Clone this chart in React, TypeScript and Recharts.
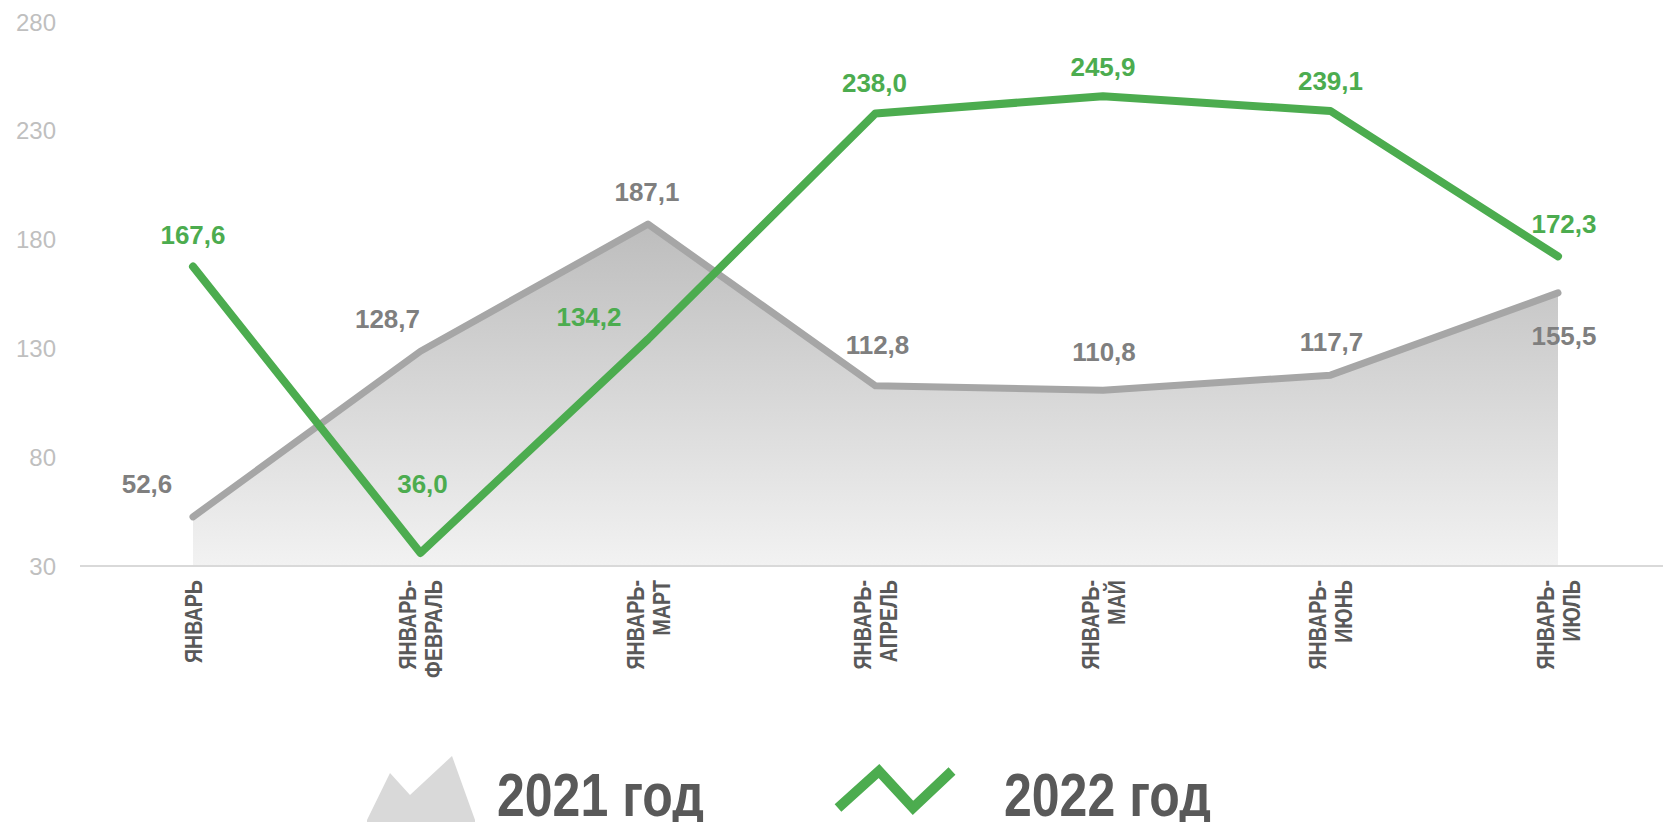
import React from 'react';
import { ComposedChart, Area, Line, XAxis, YAxis, LabelList, Legend } from 'recharts';

const categories = [
  'ЯНВАРЬ',
  'ЯНВАРЬ-ФЕВРАЛЬ',
  'ЯНВАРЬ-МАРТ',
  'ЯНВАРЬ-АПРЕЛЬ',
  'ЯНВАРЬ-МАЙ',
  'ЯНВАРЬ-ИЮНЬ',
  'ЯНВАРЬ-ИЮЛЬ',
];
const values2021 = [52.6, 128.7, 187.1, 112.8, 110.8, 117.7, 155.5];
const values2022 = [167.6, 36.0, 134.2, 238.0, 245.9, 239.1, 172.3];
const yTicks = [30, 80, 130, 180, 230, 280];
const seriesNames = ['2021 год', '2022 год'];

// label placement offsets (label centre relative to the point), px
const offsets2021: [number, number][] = [
  [-46, -33], [-33, -33], [-1, -32], [2, -41], [1, -38], [1, -33], [6, 43],
];
const offsets2022: [number, number][] = [
  [0, -32], [2, -69], [-59, -23], [-1, -31], [0, -30], [0, -30], [6, -33],
];

const GREEN = '#4CAC4F';
const GRAY_LINE = '#A6A6A6';
const GRAY_LABEL = '#7F7F7F';
const FONT = "'Liberation Sans', Arial, sans-serif";

const data = categories.map((c, i) => ({
  name: c,
  y2021: values2021[i],
  y2022: values2022[i],
}));

const fmt = (v: number) => v.toFixed(1).replace('.', ',');

const makeLabel = (offs: [number, number][], color: string) => (props: any) => {
  const { x, y, value, index } = props;
  if (x == null || y == null) return null;
  const [dx, dy] = offs[index] || [0, -30];
  return (
    <text
      x={x + dx}
      y={y + dy + 9.3}
      textAnchor="middle"
      fill={color}
      fontFamily={FONT}
      fontWeight="bold"
      fontSize={26}
    >
      {fmt(Number(value))}
    </text>
  );
};

const XTick = (props: any) => {
  const { x, y, payload } = props;
  const v: string = payload.value;
  const idx = v.indexOf('-');
  const lines = idx >= 0 ? [v.slice(0, idx + 1), v.slice(idx + 1)] : [v];
  const spacing = 26;
  const n = lines.length;
  return (
    <g transform={`translate(${x},${y + 14})`}>
      {lines.map((l, i) => {
        const centre = (i - (n - 1) / 2) * spacing;
        return (
          <text
            key={i}
            transform={`rotate(-90) scale(0.82,1)`}
            x={0}
            y={centre + 8.6}
            textAnchor="end"
            fill="#595959"
            fontFamily={FONT}
            fontWeight="bold"
            fontSize={24}
          >
            {l}
          </text>
        );
      })}
    </g>
  );
};

const LegendContent = () => {
  const top = 742;
  return (
    <svg width={1663} height={80} style={{ display: 'block' }}>
      <polygon
        points={`367,${820 - top} 390,${773 - top} 410,${795 - top} 452,${756 - top} 475,${820 - top} 475,80 367,80`}
        fill="#D9D9D9"
      />
      <g transform={`translate(497,${816 - top}) scale(0.82,1)`}>
        <text x={0} y={0} fill="#595959" fontFamily={FONT} fontWeight="bold" fontSize={61}>
          {seriesNames[0]}
        </text>
      </g>
      <polyline
        points={`838,${808 - top} 879,${771 - top} 913,${808 - top} 952,${771 - top}`}
        fill="none"
        stroke={GREEN}
        strokeWidth={10}
        strokeLinejoin="miter"
      />
      <g transform={`translate(1004,${816 - top}) scale(0.82,1)`}>
        <text x={0} y={0} fill="#595959" fontFamily={FONT} fontWeight="bold" fontSize={61}>
          {seriesNames[1]}
        </text>
      </g>
    </svg>
  );
};

export default function App() {
  return (
    <div style={{ position: 'absolute', left: 0, top: 0, width: 1663, height: 822, overflow: 'hidden', background: '#fff' }}>
      <ComposedChart
        width={1663}
        height={822}
        data={data}
        margin={{ top: 22, right: 0, bottom: 56, left: 0 }}
      >
        <defs>
          <linearGradient id="grayFill" x1="0" y1="0" x2="0" y2="1">
            <stop offset="0%" stopColor="#BDBDBD" />
            <stop offset="100%" stopColor="#F2F2F2" />
          </linearGradient>
        </defs>
        <XAxis
          dataKey="name"
          interval={0}
          height={200}
          padding={{ left: 113, right: 105 }}
          axisLine={{ stroke: '#D9D9D9', strokeWidth: 2 }}
          tickLine={false}
          tickSize={0}
          tickMargin={0}
          tick={<XTick />}
        />
        <YAxis
          width={80}
          domain={[30, 280]}
          ticks={yTicks}
          axisLine={false}
          tickLine={false}
          tickSize={0}
          tickMargin={24}
          tick={{ fill: '#BFBFBF', fontSize: 24, fontFamily: FONT }}
        />
        <Legend
          verticalAlign="middle"
          align="center"
          layout="horizontal"
          wrapperStyle={{ top: 742, left: 0, width: 1663, height: 80 }}
          content={<LegendContent />}
        />
        <Area
          type="linear"
          dataKey="y2021"
          name={seriesNames[0]}
          stroke={GRAY_LINE}
          strokeWidth={7}
          strokeLinecap="round"
          strokeLinejoin="round"
          fill="url(#grayFill)"
          fillOpacity={1}
          baseValue={30}
          dot={false}
          activeDot={false}
          isAnimationActive={false}
        >
          <LabelList dataKey="y2021" content={makeLabel(offsets2021, GRAY_LABEL)} />
        </Area>
        <Line
          type="linear"
          dataKey="y2022"
          name={seriesNames[1]}
          stroke={GREEN}
          strokeWidth={8}
          strokeLinecap="round"
          strokeLinejoin="round"
          dot={false}
          activeDot={false}
          isAnimationActive={false}
        >
          <LabelList dataKey="y2022" content={makeLabel(offsets2022, GREEN)} />
        </Line>
      </ComposedChart>
    </div>
  );
}
